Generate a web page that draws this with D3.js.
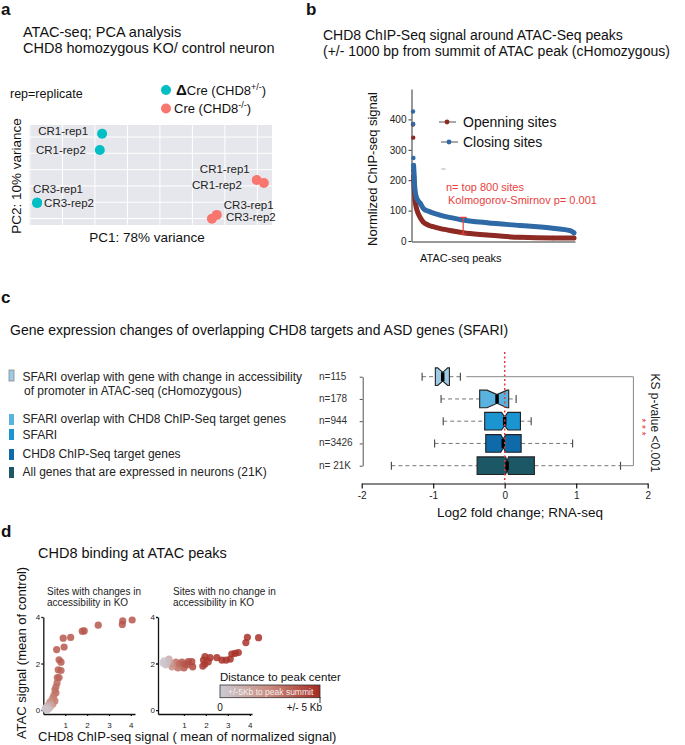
<!DOCTYPE html>
<html>
<head>
<meta charset="utf-8">
<script src="https://cdn.jsdelivr.net/npm/d3@7"></script>
<style>
  body { margin: 0; background: #fff; }
  text { font-family: "Liberation Sans", Arial, sans-serif; fill: #111; }
</style>
</head>
<body>
<svg id="fig" width="685" height="745"></svg>
<script>
// ---- panel a: PCA ----
const pcaSample = ["CR1-rep1", "CR1-rep2", "CR3-rep1", "CR3-rep2", "CR1-rep1", "CR1-rep2", "CR3-rep1", "CR3-rep2"];
const pcaGroup = ["dCre", "dCre", "dCre", "dCre", "Cre", "Cre", "Cre", "Cre"];
const pc1 = [-17.8, -18.5, -37.8, -37.8, 29.8, 32.0, 17.5, 16.0];
const pc2 = [16.0, 11.0, -5.2, -5.2, 1.8, 0.9, -8.9, -10.1];

// ---- panel b: ChIP signal ranked ----
const closingRank = [1, 2, 3, 4, 5, 6, 7, 8, 11, 20, 36, 55, 85, 135, 234, 368, 532, 695, 780, 800];
const closingSignal = [426, 385, 273, 249, 238, 225, 212, 195, 167, 140, 125, 105, 96, 85, 71, 60, 51, 42, 34, 27];
const openingRank = [1, 2, 3, 4, 5, 6, 8, 11, 18, 26, 36, 51, 75, 100, 150, 199, 249, 368, 532, 695, 800];
const openingSignal = [383, 340, 233, 215, 200, 185, 160, 134, 108, 92, 78, 63, 53, 47, 39, 33, 27, 20, 12, 10, 10];
const signalTicks = [0, 100, 200, 300, 400];
const errRank = 250, errTop = 78, errBottom = 23;

// ---- panel c: boxplots ----
const geneSets = ["n=115", "n=178", "n=944", "n=3426", "n= 21K"];
const whiskerLo = [-1.155, -0.89, -0.86, -0.98, -1.585];
const boxQ1 = [-0.97, -0.35, -0.28, -0.265, -0.386];
const boxMedian = [-0.867, -0.107, 0.0, -0.02, 0.033];
const boxQ3 = [-0.773, 0.056, 0.22, 0.23, 0.415];
const whiskerHi = [-0.62, 0.16, 0.37, 0.95, 1.62];
const notchHalf = [0.07, 0.14, 0.045, 0.035, 0.02];
const foldTicks = [-2, -1, 0, 1, 2];
const setColors = ["#9dcbe6", "#5ab3df", "#1a95d2", "#0e6aa8", "#1c5766"];

// ---- panel d: scatter ----
const chgX = [4.06, 3.63, 3.61, 2.51, 1.87, 1.78, 1.25, 0.91, 0.95, 0.61, 0.72, 0.81, 0.68, 0.81, 0.72, 0.64,
  0.63, 0.58, 0.53, 0.58, 0.49, 0.44, 0.40, 0.31, 0.26, 0.21, 0.12, 0.08, 0.17, 0.31, 0.44, 0.53, 0.35, 0.25, 0.15];
const chgY = [3.87, 3.83, 3.68, 3.65, 3.40, 3.39, 3.12, 3.09, 2.71, 2.60, 2.16, 2.06, 1.73, 1.70, 1.40, 1.40,
  1.17, 1.00, 0.87, 0.74, 0.65, 0.52, 0.43, 0.35, 0.26, 0.17, 0.09, 0.04, 0.00, 0.13, 0.26, 0.39, 0.22, 0.06, 0.14];
const chgDist = [3.8, 3.8, 3.8, 3.8, 3.8, 3.8, 3.8, 3.8, 3.8, 3.8, 3.7, 3.7, 3.6, 3.6, 3.5, 3.5,
  3.4, 3.3, 3.2, 3.2, 3.0, 2.8, 2.6, 2.2, 1.8, 1.2, 0.6, 0.3, 0.4, 1.6, 2.6, 3.0, 1.4, 0.5, 0.8];
const noX = [4.40, 3.89, 3.82, 3.48, 3.33, 3.18, 3.11, 2.92, 2.73, 2.50, 2.19, 1.96, 1.89, 2.11, 1.96, 1.86, 1.40, 1.36, 1.20,
  1.05, 0.91, 0.78, 0.64, 0.50, 0.37, 0.23, 0.09, 0.18, 0.46, 0.73, 1.00, 1.14, 0.32, 0.05, 0.27];
const noY = [3.11, 3.13, 2.90, 2.47, 2.44, 2.41, 2.19, 2.15, 2.15, 2.25, 2.25, 2.30, 2.15, 2.08, 1.98, 1.89, 1.86, 2.08, 2.08,
  1.98, 2.06, 1.98, 2.06, 1.98, 2.06, 2.02, 2.11, 1.94, 1.85, 1.81, 1.81, 1.94, 2.19, 2.02, 2.10];
const noDist = [4.8, 4.8, 4.8, 4.8, 4.8, 4.8, 4.8, 4.8, 4.8, 4.8, 4.8, 4.7, 4.7, 4.7, 4.6, 4.6, 4.3, 4.3, 4.2,
  4.0, 3.8, 3.6, 3.2, 2.6, 1.6, 0.8, 0.3, 0.5, 2.2, 3.2, 3.8, 4.0, 1.2, 0.2, 0.6];

const svg = d3.select("#fig");
svg.append("rect").attr("width", 685).attr("height", 745).attr("fill", "#fff");

function label(g, x, y, s, size, opt = {}) {
  const t = g.append("text").attr("x", x).attr("y", y).attr("font-size", size).text(s);
  if (opt.anchor) t.attr("text-anchor", opt.anchor);
  if (opt.fill) t.style("fill", opt.fill);
  if (opt.bold) t.attr("font-weight", "bold");
  if (opt.rotate !== undefined) t.attr("transform", `rotate(${opt.rotate},${x},${y})`);
  return t;
}

// panel letters
label(svg, 1, 15, "a", 17, { bold: true });
label(svg, 306, 15, "b", 17, { bold: true });
label(svg, 1, 303, "c", 17, { bold: true });
label(svg, 1, 537, "d", 17, { bold: true });

// ================= panel a =================
{
  const g = svg.append("g");
  label(g, 23, 37, "ATAC-seq; PCA analysis", 14.5);
  label(g, 23, 53, "CHD8 homozygous KO/ control neuron", 14.5);
  label(g, 10, 98, "rep=replicate", 12.5);

  const color = { dCre: "#00BFC4", Cre: "#F8766D" };
  g.append("circle").attr("cx", 166).attr("cy", 90).attr("r", 5).attr("fill", color.dCre);
  g.append("circle").attr("cx", 166).attr("cy", 108.5).attr("r", 5).attr("fill", color.Cre);
  const l1 = g.append("text").attr("x", 176).attr("y", 95).attr("font-size", 13);
  l1.append("tspan").attr("font-size", 15).attr("font-weight", "bold").text("\u0394");
  l1.append("tspan").text("Cre (CHD8");
  l1.append("tspan").attr("font-size", 9).attr("dy", -5).text("+/-");
  l1.append("tspan").attr("dy", 5).text(")");
  const l2 = g.append("text").attr("x", 174).attr("y", 113).attr("font-size", 13);
  l2.append("tspan").text("Cre (CHD8");
  l2.append("tspan").attr("font-size", 9).attr("dy", -5).text("-/-");
  l2.append("tspan").attr("dy", 5).text(")");

  const x = d3.scaleLinear().domain([-40.3, 34.5]).range([29, 272]);
  const y = d3.scaleLinear().domain([-12, 18.7]).range([225, 125]);
  g.append("rect").attr("x", 29).attr("y", 125).attr("width", 243).attr("height", 100).attr("fill", "#e6e7ec");
  g.selectAll(".gx").data(x.ticks(8)).join("line")
    .attr("x1", d => x(d)).attr("x2", d => x(d)).attr("y1", 125).attr("y2", 225)
    .attr("stroke", "#fff").attr("stroke-width", 1);
  g.selectAll(".gy").data(y.ticks(7)).join("line")
    .attr("y1", d => y(d)).attr("y2", d => y(d)).attr("x1", 29).attr("x2", 272)
    .attr("stroke", "#fff").attr("stroke-width", 1);

  const pts = pcaSample.map((s, i) => ({ s, grp: pcaGroup[i], x: pc1[i], y: pc2[i] }));
  g.selectAll(".pt").data(pts).join("circle")
    .attr("cx", d => x(d.x)).attr("cy", d => y(d.y)).attr("r", 5)
    .attr("fill", d => color[d.grp]);

  // label placement (px offsets, anchor)
  const nudge = [[-14, 1, "end"], [-14, 4, "end"], [-4, -10, "start"], [7, 4, "start"],
                 [-7, -7, "end"], [-22, 6, "end"], [7, -6, "start"], [14, 2, "start"]];
  g.selectAll(".lb").data(pts).join("text")
    .attr("x", (d, i) => x(d.x) + nudge[i][0]).attr("y", (d, i) => y(d.y) + nudge[i][1])
    .attr("text-anchor", (d, i) => nudge[i][2]).attr("font-size", 11.5)
    .style("fill", "#222").text(d => d.s);

  label(g, 147, 242, "PC1: 78% variance", 13.5, { anchor: "middle" });
  label(g, 21, 176, "PC2: 10% variance", 13.5, { anchor: "middle", rotate: -90 });
}

// ================= panel b =================
{
  const g = svg.append("g");
  label(g, 323, 40, "CHD8 ChIP-Seq signal around ATAC-Seq peaks", 14);
  label(g, 323, 56, "(+/- 1000 bp from summit of ATAC peak (cHomozygous)", 14);

  const x = d3.scaleLinear().domain([1, 800]).range([413, 574]);
  const y = d3.scaleLinear().domain([0, 500]).range([241, 89]);

  const ax = g.append("g").attr("transform", "translate(411.5,0)")
    .call(d3.axisLeft(y).tickValues(signalTicks).tickSize(3).tickSizeOuter(0).tickPadding(2));
  ax.selectAll("text").attr("font-size", 10).style("fill", "#222");
  ax.selectAll("path,line").attr("stroke", "#333");
  const bx = g.append("g").attr("transform", "translate(0,241.5)")
    .call(d3.axisBottom(d3.scaleLinear().range([411.5, 575])).ticks(0).tickSizeOuter(0));
  bx.select("path").attr("stroke", "#333");

  label(g, 420, 262, "ATAC-seq peaks", 11);
  label(g, 377, 169, "Normlized ChIP-seq signal", 13, { anchor: "middle", rotate: -90 });

  const series = [
    { rank: openingRank, val: openingSignal, c: "#8e2a24" },
    { rank: closingRank, val: closingSignal, c: "#2f6aa7" }
  ];
  const line = d3.line().x(d => x(d[0])).y(d => y(d[1])).curve(d3.curveMonotoneX);
  series.forEach(s => {
    const d = s.rank.map((r, i) => [r, s.val[i]]);
    g.append("path").datum(d.slice(3)).attr("d", line)
      .attr("fill", "none").attr("stroke", s.c).attr("stroke-width", 5).attr("stroke-linecap", "round");
    g.selectAll(null).data(d).join("circle")
      .attr("cx", p => x(p[0])).attr("cy", p => y(p[1])).attr("r", 2.2).attr("fill", s.c);
  });

  // legend
  [["Openning sites", "#8e2a24", 122], ["Closing sites", "#2f6aa7", 142]].forEach(([t, c, yy], i) => {
    g.append("line").attr("x1", 439 + i * 2).attr("x2", 456 + i * 2).attr("y1", yy).attr("y2", yy)
      .attr("stroke", "#555").attr("stroke-width", 1);
    g.append("circle").attr("cx", 447 + i * 2).attr("cy", yy).attr("r", 2.4).attr("fill", c);
    label(g, 463, yy + 5, t, 14);
  });
  g.append("line").attr("x1", 441.5).attr("x2", 445.5).attr("y1", 169).attr("y2", 169).attr("stroke", "#aaa");

  const red = "#e8413c";
  label(g, 446, 191, "n= top 800 sites", 11, { fill: red });
  label(g, 448, 204, "Kolmogorov-Smirnov p= 0.001", 11, { fill: red });
  const ex = x(errRank);
  g.append("path")
    .attr("d", `M${ex - 3.5},${y(errTop)}H${ex + 3.5}M${ex},${y(errTop)}V${y(errBottom)}M${ex - 3.5},${y(errBottom)}H${ex + 3.5}`)
    .attr("stroke", red).attr("stroke-width", 1.2).attr("fill", "none");
}

// ================= panel c =================
{
  const g = svg.append("g");
  label(g, 10, 335, "Gene expression changes of overlapping CHD8 targets and ASD genes (SFARI)", 14);

  // legend
  const legend = [
    { lines: ["SFARI  overlap with gene with change in accessibility", " of promoter in ATAC-seq (cHomozygous)"], y: 381, sy: 370 },
    { lines: ["SFARI overlap with CHD8 ChIP-Seq target genes"], y: 423, sy: 414 },
    { lines: ["SFARI"], y: 439, sy: 429 },
    { lines: ["CHD8 ChIP-Seq target genes"], y: 458, sy: 449 },
    { lines: ["All genes that are expressed in neurons (21K)"], y: 476, sy: 467 }
  ];
  legend.forEach((l, i) => {
    g.append("rect").attr("x", 9).attr("y", l.sy).attr("width", 5).attr("height", 11)
      .attr("fill", setColors[i]).attr("stroke", i === 0 ? "#888" : "none").attr("stroke-width", 0.8);
    l.lines.forEach((s, k) => label(g, k ? 24 : 22.5, l.y + k * 14, s, 12, { fill: "#222" }));
  });

  const x = d3.scaleLinear().domain([-2, 2]).range([361.7, 647.7]);
  const y = d3.scalePoint().domain(geneSets).range([376.7, 465.7]);

  const ax = g.append("g").attr("transform", "translate(0,483.5)")
    .call(d3.axisBottom(x).tickValues(foldTicks).tickSize(5).tickSizeOuter(0).tickFormat(d => String(d)));
  ax.selectAll("text").attr("font-size", 10).style("fill", "#222");
  ax.selectAll("path,line").attr("stroke", "#111").attr("stroke-width", 1.2);
  const ay = g.append("g").attr("transform", "translate(362.7,0)")
    .call(d3.axisLeft(y).tickSize(3).tickSizeOuter(0).tickFormat(""));
  ay.selectAll("path,line").attr("stroke", "#555");
  label(g, 520, 517, "Log2 fold change; RNA-seq", 13.5, { anchor: "middle" });

  geneSets.forEach(n => label(g, 319, y(n) + 3, n, 10, { fill: "#333" }));

  const h = 17.6;
  geneSets.forEach((n, i) => {
    const cy = y(n), t = cy - h / 2, b = cy + h / 2, ind = h / 4;
    // whiskers
    g.append("path")
      .attr("d", `M${x(whiskerLo[i])},${cy}H${x(boxQ1[i])}M${x(boxQ3[i])},${cy}H${x(whiskerHi[i])}`)
      .attr("stroke", "#777").attr("stroke-dasharray", "4,3").attr("stroke-width", 1);
    g.append("path")
      .attr("d", `M${x(whiskerLo[i])},${cy - 4}V${cy + 4}M${x(whiskerHi[i])},${cy - 4}V${cy + 4}`)
      .attr("stroke", "#444").attr("stroke-width", 1.1);
    const lo = x(boxQ1[i]), hi = x(boxQ3[i]), m = x(boxMedian[i]);
    const nl = x(boxMedian[i] - notchHalf[i]), nr = x(boxMedian[i] + notchHalf[i]);
    g.append("path")
      .attr("d", `M${lo},${t}L${nl},${t}L${m},${t + ind}L${nr},${t}L${hi},${t}L${hi},${b}L${nr},${b}L${m},${b - ind}L${nl},${b}L${lo},${b}Z`)
      .attr("fill", setColors[i]).attr("stroke", "#222").attr("stroke-width", 1.1);
    g.append("line").attr("x1", m).attr("x2", m).attr("y1", t + ind).attr("y2", b - ind)
      .attr("stroke", "#000").attr("stroke-width", 3.5);
  });

  g.append("line").attr("x1", x(0)).attr("x2", x(0)).attr("y1", 352).attr("y2", 483)
    .attr("stroke", "#e0383a").attr("stroke-width", 1.5).attr("stroke-dasharray", "2,2.5");

  const bxR = x(1.8);
  g.append("path")
    .attr("d", `M${x(whiskerHi[0]) + 6},${y(geneSets[0])}H${bxR}V${y(geneSets[4])}H${x(whiskerHi[4])}`)
    .attr("fill", "none").attr("stroke", "#888").attr("stroke-width", 1);
  label(g, 638, 427, "* * *", 10, { anchor: "middle", rotate: 90, fill: "#e0383a" });
  label(g, 651, 423, "KS p-value <0.001", 12, { anchor: "middle", rotate: 90, fill: "#222" });
}

// ================= panel d =================
{
  const g = svg.append("g");
  label(g, 38, 558, "CHD8 binding at ATAC peaks", 14.5);

  const distColor = d3.scaleLinear().domain([0, 2.5, 5]).range(["#cccbd3", "#c98a7c", "#a52a22"]);
  const intFmt = d3.format("d");

  const panels = [
    { x0: 43.3, x1: 135, dom: [0, 4.19], tx: 47, title: ["Sites with changes in", "accessibility in KO"],
      xs: chgX, ys: chgY, ds: chgDist },
    { x0: 158, x1: 252, dom: [-0.18, 4.1], tx: 173, title: ["Sites with no change in", "accessibility in KO"],
      xs: noX, ys: noY, ds: noDist }
  ];
  const y = d3.scaleLinear().domain([-0.17, 4]).range([714, 617]);

  panels.forEach(p => {
    const x = d3.scaleLinear().domain(p.dom).range([p.x0, p.x1]);
    p.title.forEach((s, k) => label(g, p.tx, 595 + k * 11, s, 10, { fill: "#222" }));

    const ax = g.append("g").attr("transform", "translate(0,714)")
      .call(d3.axisBottom(x).tickValues([1, 2, 3, 4]).tickFormat(intFmt).tickSize(2).tickSizeOuter(0).tickPadding(6));
    ax.selectAll("text").attr("font-size", 8).style("fill", "#222");
    ax.selectAll("path,line").attr("stroke", "#111").attr("stroke-width", 1.3);
    const ay = g.append("g").attr("transform", `translate(${p.x0},0)`)
      .call(d3.axisLeft(y).tickValues([0, 2, 4]).tickFormat(intFmt).tickSize(2).tickSizeOuter(0).tickPadding(1));
    ay.selectAll("text").attr("font-size", 8).style("fill", "#222");
    ay.selectAll("path,line").attr("stroke", "#111").attr("stroke-width", 1.3);

    const pts = p.xs.map((v, i) => ({ x: v, y: p.ys[i], d: p.ds[i] })).sort((a, b) => b.d - a.d);
    g.selectAll(null).data(pts).join("circle")
      .attr("cx", d => x(d.x)).attr("cy", d => y(d.y)).attr("r", 3.6)
      .attr("fill", d => distColor(d.d)).attr("fill-opacity", 0.85);
  });

  label(g, 26, 653, "ATAC signal (mean of control)", 13, { anchor: "middle", rotate: -90 });
  label(g, 38, 741, "CHD8 ChIP-seq signal ( mean of  normalized signal)", 13);

  // color bar
  const grad = svg.append("defs").append("linearGradient").attr("id", "distGrad");
  [0, 0.5, 1].forEach(o => grad.append("stop").attr("offset", o).attr("stop-color", distColor(o * 5)));
  label(g, 220, 681, "Distance to peak center", 11.5);
  g.append("rect").attr("x", 220).attr("y", 685).attr("width", 100).attr("height", 12.7)
    .attr("fill", "url(#distGrad)").attr("stroke", "#333").attr("stroke-width", 0.8);
  g.append("line").attr("x1", 320).attr("x2", 320).attr("y1", 697).attr("y2", 703).attr("stroke", "#333");
  label(g, 228, 695, "+/-5Kb to peak summit", 8.5, { fill: "#f4f0f0" });
  label(g, 220, 711, "0", 10, { anchor: "middle" });
  label(g, 322, 711, "+/- 5 Kb", 10, { anchor: "end" });
}
</script>
</body>
</html>
